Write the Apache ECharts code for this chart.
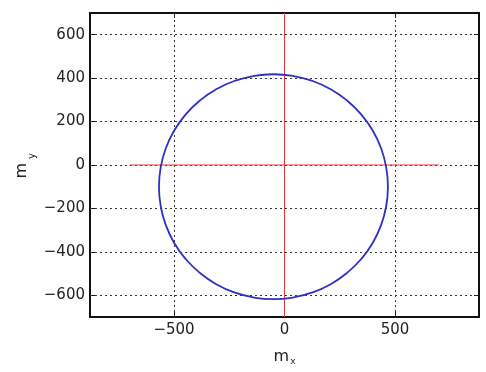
<!DOCTYPE html>
<html><head><meta charset="utf-8">
<script src="https://cdn.jsdelivr.net/npm/echarts@6/dist/echarts.min.js"></script>
<style>html,body{margin:0;padding:0;background:#fff}#c{width:486px;height:372px}</style>
</head><body><div id="c"></div>
<script>
// circle trace (m_x, m_y)
const circleX = [468, 460, 437, 399, 347, 283, 209, 127, 40, -50, -140, -227, -309, -383, -447, -499, -537, -560, -568, -560, -537, -499, -447, -383, -309, -227, -140, -50, 40, 127, 209, 283, 347, 399, 437, 460, 468];
const circleY = [-100, -10, 77, 159, 233, 297, 349, 387, 410, 418, 410, 387, 349, 297, 233, 159, 77, -10, -100, -190, -277, -359, -433, -497, -549, -587, -610, -618, -610, -587, -549, -497, -433, -359, -277, -190, -100];
// red reference cross
const hLineX = [-700, 700];
const hLineY = [0, 0];
const vLineX = [0, 0];
const vLineY = [-700, 700];
// ticks
const xTicks = [-500, 0, 500];
const yTicks = [-600, -400, -200, 0, 200, 400, 600];
const xRange = [-880, 880];
const yRange = [-700, 700];

const zip = (a, b) => a.map((v, i) => [v, b[i]]);
const fmt = v => String(v).replace('-', '\u2212');
const labelFont = {fontFamily: 'DejaVu Sans', fontSize: 15, color: '#222', formatter: fmt};
const frame = {show: true, onZero: false, lineStyle: {color: '#111', width: 2}};
const gridStyle = {color: '#333', width: 1, type: [2, 3]};
const nameRich = {
  m: {fontFamily: 'DejaVu Sans', fontSize: 16, color: '#222', lineHeight: 20},
  s: {fontFamily: 'DejaVu Sans', fontSize: 9, color: '#222', lineHeight: 20, padding: [10, 0, 0, 1]}
};

const chart = echarts.init(document.getElementById('c'), null, {renderer: 'canvas'});
chart.setOption({
  backgroundColor: '#fff',
  animation: false,
  grid: {left: 90, top: 13, width: 389, height: 304, containLabel: false},
  graphic: [{
    type: 'text', left: 14, top: 163, silent: true,
    style: {text: 'm', font: '16px "DejaVu Sans"', fill: '#222'},
    rotation: Math.PI / 2
  }, {
    type: 'text', left: 27, top: 153, silent: true,
    style: {text: 'y', font: '10px "DejaVu Sans"', fill: '#222'},
    rotation: Math.PI / 2
  }],
  xAxis: [{
    type: 'value', min: xRange[0], max: xRange[1], position: 'bottom',
    axisLine: frame,
    axisTick: {show: true, inside: true, length: 5, customValues: xTicks, lineStyle: {color: '#111'}},
    axisLabel: Object.assign({margin: 6, customValues: xTicks}, labelFont),
    splitLine: {show: false},
    name: '{m|m}{s|x}', nameLocation: 'middle', nameGap: 30,
    nameTextStyle: {rich: nameRich}
  }, {
    type: 'value', min: xRange[0], max: xRange[1], position: 'top',
    axisLine: frame,
    axisTick: {show: true, inside: true, length: 5, customValues: xTicks, lineStyle: {color: '#111'}},
    axisLabel: {show: false}, splitLine: {show: false}
  }],
  yAxis: [{
    type: 'value', min: yRange[0], max: yRange[1], position: 'left',
    axisLine: frame,
    axisTick: {show: true, inside: true, length: 5, customValues: yTicks, lineStyle: {color: '#111'}},
    axisLabel: Object.assign({margin: 5, customValues: yTicks}, labelFont),
    splitLine: {show: false}
  }, {
    type: 'value', min: yRange[0], max: yRange[1], position: 'right',
    axisLine: frame,
    axisTick: {show: true, inside: true, length: 5, customValues: yTicks, lineStyle: {color: '#111'}},
    axisLabel: {show: false}, splitLine: {show: false}
  }],
  series: [{
    type: 'line', data: zip(hLineX, hLineY), showSymbol: false, z: 2,
    lineStyle: {color: '#e23a3a', width: 1}, silent: true,
    markLine: {
      silent: true, symbol: 'none', label: {show: false}, z: 1,
      lineStyle: gridStyle,
      data: yTicks.map(v => ({yAxis: v})).concat(xTicks.map(v => ({xAxis: v})))
    }
  }, {
    type: 'line', data: zip(vLineX, vLineY), showSymbol: false, z: 3,
    lineStyle: {color: '#e23a3a', width: 1}, silent: true
  }, {
    type: 'line', data: zip(circleX, circleY), showSymbol: false, smooth: true, z: 4,
    lineStyle: {color: '#3030c0', width: 1.8}, silent: true
  }]
});
</script></body></html>
